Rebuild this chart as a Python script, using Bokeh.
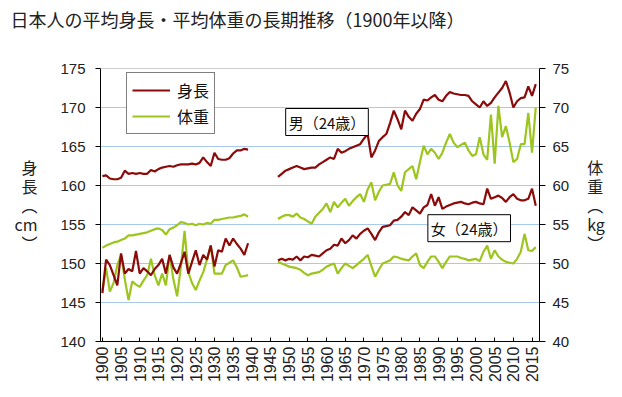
import math
from bokeh.plotting import figure
from bokeh.models import (LinearAxis, Range1d, FixedTicker, Label, Legend, LegendItem, Span, Title)
from bokeh.embed import file_html
from bokeh.resources import INLINE

# ---------------- data ----------------
years_pre = list(range(1900, 1940))
years_post = list(range(1947, 2017))

male_height_pre = [161.2, 161.3, 160.9, 160.8, 160.8, 161.0, 161.9, 161.5, 161.6, 161.5,
                   161.6, 161.5, 161.5, 162.0, 161.8, 162.1, 162.3, 162.4, 162.5, 162.4,
                   162.6, 162.7, 162.7, 162.7, 162.8, 162.7, 162.9, 163.6, 163.0, 162.5,
                   164.2, 163.4, 163.3, 163.3, 163.5, 164.1, 164.5, 164.5, 164.7, 164.6]
male_height_post = [161.1, 161.5, 161.9, 162.1, 162.3, 162.5, 162.3, 162.1, 162.2, 162.3,
                    162.3, 162.7, 163.0, 163.3, 163.6, 163.4, 164.7, 164.2, 164.4, 164.7,
                    164.9, 165.1, 165.3, 166.0, 166.6, 163.6, 164.5, 165.7, 166.2, 166.6,
                    168.0, 169.6, 168.5, 167.2, 169.6, 168.8, 168.3, 169.2, 169.8, 171.0,
                    170.9, 171.3, 171.6, 171.0, 170.8, 171.5, 172.0, 171.8, 171.7, 171.6,
                    171.6, 171.5, 170.8, 170.4, 170.0, 170.8, 170.2, 170.6, 171.3, 171.9,
                    172.5, 173.4, 171.9, 170.0, 170.8, 171.2, 171.3, 172.7, 171.5, 173.0]

male_weight_pre = [52.0, 52.3, 52.5, 52.7, 52.8, 53.0, 53.2, 53.6, 53.6, 53.7,
                   53.8, 53.9, 54.0, 54.2, 54.4, 54.5, 54.3, 53.7, 54.4, 54.6,
                   54.9, 55.3, 55.2, 55.0, 55.1, 54.9, 55.1, 55.0, 55.2, 55.1,
                   55.6, 55.6, 55.7, 55.8, 55.9, 55.9, 56.0, 56.1, 56.3, 56.0]
male_weight_post = [55.7, 56.0, 56.2, 56.2, 56.0, 56.4, 55.9, 55.7, 55.4, 55.1,
                    56.0, 56.5, 57.0, 57.7, 56.6, 57.9, 57.2, 57.8, 58.3, 57.4,
                    58.0, 58.5, 58.9, 57.9, 59.5, 60.4, 58.1, 59.2, 60.0, 60.1,
                    60.2, 61.7, 60.0, 59.3, 61.7, 62.1, 62.5, 60.8, 63.0, 65.1,
                    64.0, 64.7, 64.2, 63.4, 64.2, 65.5, 66.6, 65.5, 64.9, 65.2,
                    65.5, 64.5, 63.8, 64.0, 66.2, 64.0, 63.3, 69.1, 62.8, 70.2,
                    66.2, 67.6, 65.5, 63.0, 63.4, 65.3, 65.3, 69.3, 64.2, 70.0]

female_height_pre = [146.2, 150.5, 149.8, 148.5, 147.2, 151.3, 148.7, 149.3, 149.0, 151.6,
                     148.7, 149.4, 149.0, 148.5, 149.3, 149.8, 150.6, 148.7, 151.1, 149.5,
                     148.7, 150.0, 151.5, 148.7, 150.2, 151.7, 149.8, 151.1, 150.5, 152.3,
                     149.6, 151.7, 151.5, 153.2, 152.3, 153.2, 152.5, 151.9, 151.1, 152.6]
female_height_post = [150.4, 150.6, 150.4, 150.6, 150.5, 150.9, 150.4, 150.9, 150.8, 151.1,
                      151.0, 150.9, 151.3, 151.7, 151.9, 152.4, 152.3, 153.2, 152.6, 153.0,
                      153.6, 153.2, 153.8, 154.2, 154.5, 153.8, 153.0, 154.0, 154.7, 154.8,
                      154.9, 155.5, 155.6, 156.0, 156.6, 156.2, 157.2, 156.8, 156.4, 157.2,
                      157.5, 158.9, 157.4, 158.5, 157.0, 157.3, 157.5, 157.7, 157.8, 157.9,
                      157.7, 157.6, 157.8, 157.9, 157.7, 157.6, 159.6, 158.3, 158.5, 158.7,
                      158.4, 157.9, 158.5, 158.9, 158.3, 158.1, 158.1, 158.3, 159.6, 157.4]

female_weight_pre = [46.5, 49.4, 46.4, 47.5, 49.8, 51.1, 48.0, 45.3, 47.7, 47.3,
                     47.0, 47.8, 48.5, 50.6, 48.5, 47.2, 48.7, 47.2, 51.1, 48.0,
                     45.8, 49.5, 54.2, 48.9, 47.5, 46.6, 47.8, 48.9, 50.5, 52.3,
                     48.7, 48.7, 48.7, 49.8, 50.1, 50.4, 49.5, 48.3, 48.4, 48.5]
female_weight_post = [50.2, 50.0, 49.8, 49.6, 49.5, 49.4, 49.2, 48.8, 48.5, 48.7,
                      48.8, 48.9, 49.2, 49.6, 49.8, 50.0, 48.7, 49.4, 50.0, 49.7,
                      49.4, 49.8, 50.2, 50.6, 51.1, 49.7, 48.3, 49.2, 50.0, 50.2,
                      50.4, 50.9, 50.8, 50.6, 50.5, 50.4, 50.9, 51.3, 49.8, 49.4,
                      50.2, 50.9, 50.9, 50.2, 49.4, 50.2, 50.9, 50.9, 50.9, 50.7,
                      50.6, 50.4, 50.5, 50.6, 50.3, 51.5, 52.3, 50.6, 51.7, 50.9,
                      50.5, 50.2, 50.1, 50.0, 50.6, 51.5, 53.8, 51.7, 51.6, 52.1]

year_ticks = list(range(1900, 2016, 5))
height_ticks = list(range(140, 176, 5))
weight_ticks = list(range(40, 76, 5))

title_text = "日本人の平均身長・平均体重の長期推移（1900年以降）"
legend_labels = ["身長", "体重"]
left_axis_title = "身\n長\n︵\ncm\n︶"
right_axis_title = "体\n重\n︵\nkg\n︶"
male_note = "男（24歳）"
female_note = "女（24歳）"

# ---------------- styling ----------------
RED = "#8B0A0A"
GREEN = "#9CC51E"
GRID = "#A8C8EC"
CJK = "Noto Sans CJK JP"
NUM = "Liberation Sans"

X0, X1 = 1899.5, 2017.0
H0, H1 = 140, 175
W0, W1 = 40, 75

W, H = 614, 389
FL, FT = 100, 68
FR = W - 539
FB = H - 341
FW, FH = W - FL - FR, H - FT - FB


def px_to_x(px):   # canvas px -> year
    return X0 + (px - FL) * (X1 - X0) / FW


def py_to_h(py):   # canvas px -> height units
    return H1 - (py - FT) * (H1 - H0) / FH


def series(pre, post):
    xs = years_pre + [1940] + years_post
    ys = pre + [float("nan")] + post
    return xs, ys


p = figure(width=W, height=H, output_backend="svg", toolbar_location=None,
           x_range=Range1d(X0, X1), y_range=Range1d(H0, H1),
           min_border_left=FL, min_border_right=FR, min_border_top=FT,
           min_border_bottom=FB, title=None)
p.extra_y_ranges = {"w": Range1d(W0, W1)}
p.outline_line_color = None
p.background_fill_color = "white"
p.border_fill_color = "white"

# title: a thin spacer next to the frame, then the real title text above it
spacer = Title(text=" ", text_font_size="1px", standoff=28)
main_title = Title(text=title_text, align="left", vertical_align="top",
                   offset=-(FL - 10), standoff=8, text_font=CJK,
                   text_font_size="18px", text_font_style="normal",
                   text_color="#222222")
p.add_layout(spacer, "above")
p.add_layout(main_title, "above")

p.xgrid.visible = False
p.ygrid.ticker = FixedTicker(ticks=height_ticks)
p.ygrid.grid_line_color = GRID
p.ygrid.grid_line_width = 1
p.add_layout(Span(location=H1, dimension="width", line_color="#A0A0A0", line_width=1))


def style_axis(ax, size):
    ax.minor_tick_line_color = None
    ax.axis_line_color = "black"
    ax.major_tick_line_color = "black"
    ax.major_label_text_font = NUM
    ax.major_label_text_font_size = size
    ax.major_label_text_color = "#222222"


# x axis
xa = p.xaxis[0]
xa.ticker = FixedTicker(ticks=year_ticks)
xa.major_label_orientation = math.pi / 2
xa.major_tick_in = 4
xa.major_tick_out = 0
style_axis(xa, "16px")
xa.major_label_standoff = 5

# left axis
ya = p.yaxis[0]
ya.ticker = FixedTicker(ticks=height_ticks)
ya.major_tick_in = 0
ya.major_tick_out = 5
style_axis(ya, "15px")
ya.major_label_standoff = 10

# right axis
ra = LinearAxis(y_range_name="w", ticker=FixedTicker(ticks=weight_ticks))
ra.major_tick_in = 0
ra.major_tick_out = 6
style_axis(ra, "15px")
ra.major_label_standoff = 7
p.add_layout(ra, "right")

for ax, txt, st in [(ya, left_axis_title, 20), (ra, right_axis_title, 15)]:
    ax.axis_label = txt
    ax.axis_label_text_font = CJK
    ax.axis_label_text_font_size = "16px"
    ax.axis_label_text_font_style = "normal"
    ax.axis_label_text_color = "#222222"
    ax.axis_label_standoff = st
    ax.axis_label_text_line_height = 0.8
    ax.axis_label_text_align = "center"
    if hasattr(ax, "axis_label_orientation"):
        ax.axis_label_orientation = "horizontal"

# lines
xs, ys = series(female_weight_pre, female_weight_post)
r_fw = p.line(xs, ys, y_range_name="w", line_color=GREEN, line_width=2.2)
xs, ys = series(male_weight_pre, male_weight_post)
r_mw = p.line(xs, ys, y_range_name="w", line_color=GREEN, line_width=2.2)
xs, ys = series(female_height_pre, female_height_post)
r_fh = p.line(xs, ys, line_color=RED, line_width=2.2)
xs, ys = series(male_height_pre, male_height_post)
r_mh = p.line(xs, ys, line_color=RED, line_width=2.2)

# legend
legend = Legend(items=[LegendItem(label=legend_labels[0], renderers=[r_mh]),
                       LegendItem(label=legend_labels[1], renderers=[r_mw])],
                location=(26, 207), orientation="vertical")
legend.border_line_color = "black"
legend.border_line_width = 1
legend.background_fill_color = "white"
legend.background_fill_alpha = 1
legend.label_text_font = CJK
legend.label_text_font_size = "16px"
legend.label_text_color = "#111111"
legend.glyph_width = 38
legend.glyph_height = 18
legend.label_height = 18
legend.label_standoff = 7
legend.padding = 5
legend.spacing = 2
legend.margin = 0
p.add_layout(legend, "center")

# notes
for txt, cx, cy in [(male_note, 326.5, 121.5), (female_note, 468.7, 227.7)]:
    p.add_layout(Label(x=px_to_x(cx), y=py_to_h(cy), text=txt, text_font=CJK,
                       text_font_size="15px", text_color="#111111",
                       text_align="center", text_baseline="middle",
                       border_line_color="black", border_line_width=1,
                       background_fill_color="white", padding=3))

open("out.html", "w").write(file_html(p, INLINE))
